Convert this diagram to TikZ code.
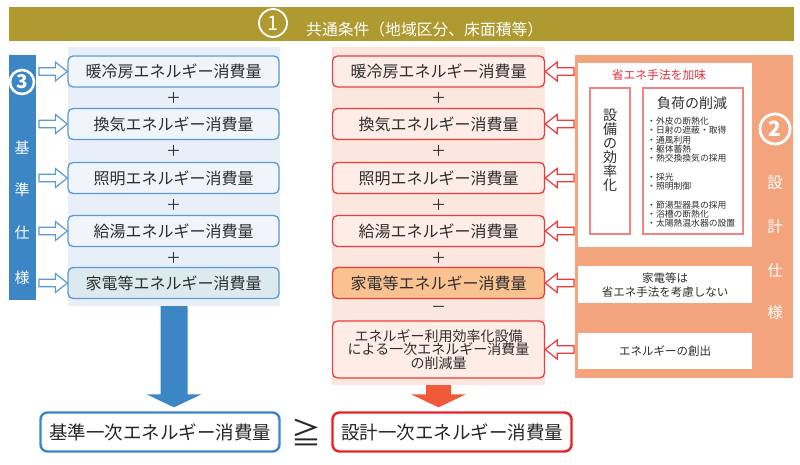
\documentclass[tikz,border=0pt]{standalone}
\usepackage{fontspec}
\setmainfont{Noto Sans CJK JP}
\usetikzlibrary{calc}
\definecolor{banner}{HTML}{AE9A30}
\definecolor{bluebar}{HTML}{3C86C6}
\definecolor{lbg}{HTML}{E9EFF8}
\definecolor{bline}{HTML}{5A9AD4}
\definecolor{bfill}{HTML}{F0F5FB}
\definecolor{bfillb}{HTML}{DCEAF0}
\definecolor{pbg}{HTML}{FCE7DE}
\definecolor{rline}{HTML}{EE3B3B}
\definecolor{rfill}{HTML}{FDEDE6}
\definecolor{ofill}{HTML}{FAC291}
\definecolor{rarrow}{HTML}{F05A3A}
\definecolor{opanel}{HTML}{F4A47C}
\definecolor{subline}{HTML}{F08484}
\definecolor{redtxt}{HTML}{E8303A}
\definecolor{txt}{HTML}{2E2E2E}
\definecolor{bred}{HTML}{E8202A}
\newcommand{\fs}[1]{\fontsize{#1}{#1}\selectfont}
\newcommand{\hollowarr}[3]{%
  \draw[#1] let \p1=#2, \p2=#3, \n1={ifthenelse(\x2>\x1,1,-1)} in
  ({\x1},{\y1+3.8pt}) -- ({\x2-\n1*12pt},{\y1+3.8pt}) -- ({\x2-\n1*12pt},{\y1+9.5pt})
  -- ({\x2},{\y1}) -- ({\x2-\n1*12pt},{\y1-9.5pt}) -- ({\x2-\n1*12pt},{\y1-3.8pt})
  -- ({\x1},{\y1-3.8pt}) -- cycle;}
\newcommand{\bigdown}[6]{%
  \fill[#1] let \p1=#2, \p2=#3 in
  ({\x1-#4},{\y1}) -- ({\x1+#4},{\y1}) -- ({\x1+#4},{\y2+#6}) -- ({\x1+#5},{\y2+#6})
  -- ({\x1},{\y2}) -- ({\x1-#5},{\y2+#6}) -- ({\x1-#4},{\y2+#6}) -- cycle;}
\begin{document}
\begin{tikzpicture}[x=1pt,y=-1pt,
  panel/.style={anchor=north west,inner sep=0pt,outer sep=0pt},
  bbox/.style={draw=bline,fill=bfill,line width=1.3pt,rounded corners=5pt,
    minimum width=211pt,minimum height=31pt,inner sep=0pt,font=\fs{16},text=txt},
  rbox/.style={draw=rline,fill=rfill,line width=1.3pt,rounded corners=5pt,
    minimum width=212pt,minimum height=31pt,inner sep=0pt,font=\fs{16},text=txt},
  opsign/.style={font=\fs{15},text=txt,inner sep=0pt},
  harrb/.style={draw=bline,fill=white,line width=1.2pt,line join=miter},
  harrr/.style={draw=rline,fill=white,line width=1.2pt,line join=miter},
  vtxt/.style={text=white,font=\fs{15},inner sep=0pt},
  numcirc/.style={circle,draw=white,text=white,inner sep=0pt,font=\bfseries\fs{19}},
  wbox/.style={panel,fill=white},
  subbox/.style={panel,draw=subline,line width=1.1pt,fill=white},
]
\useasboundingbox (0,0) rectangle (800,465);
\fill[white] (0,0) rectangle (800,465);

% banner
\node[panel,fill=banner,minimum width=785pt,minimum height=34pt] (banner) at (9,7) {};
\node[numcirc,line width=1.8pt,minimum size=28pt,font=\fs{20}] (c1) at (273,23) {1};
\node[anchor=west,text=white,font=\fs{15.8},inner sep=0pt] (bt) at (306,29) {共通条件（地域区分、床面積等）};

% left side
\node[panel,fill=bluebar,minimum width=27pt,minimum height=245pt] (bar) at (9,55) {};
\node[numcirc,line width=2.6pt,minimum size=24pt] (c3) at (22,82) {3};
\node[vtxt] (v1) at (22,148) {基};
\node[vtxt] (v2) at (22,190) {準};
\node[vtxt] (v3) at (22,233) {仕};
\node[vtxt] (v4) at (22,278) {様};
\node[panel,fill=lbg,minimum width=212pt,minimum height=259pt] (lpanel) at (68,47) {};
\node[bbox] (b1) at (173.5,71.5) {暖冷房エネルギー消費量};
\node[bbox] (b2) at (173.5,124) {換気エネルギー消費量};
\node[bbox] (b3) at (173.5,178) {照明エネルギー消費量};
\node[bbox] (b4) at (173.5,231) {給湯エネルギー消費量};
\node[bbox,fill=bfillb] (b5) at (173.5,283) {家電等エネルギー消費量};
\node[opsign] (p1) at (173.5,97.5) {＋};
\node[opsign] (p2) at (173.5,151) {＋};
\node[opsign] (p3) at (173.5,204.5) {＋};
\node[opsign] (p4) at (173.5,257.5) {＋};
\foreach \b in {b1,b2,b3,b4,b5}{
  \hollowarr{harrb}{($(bar.east|-\b.west)+(3,0)$)}{(\b.west)}
}

% middle
\node[panel,fill=pbg,minimum width=213pt,minimum height=338pt] (mpanel) at (332,47) {};
\node[rbox] (r1) at (438.5,71.5) {暖冷房エネルギー消費量};
\node[rbox] (r2) at (438.5,124) {換気エネルギー消費量};
\node[rbox] (r3) at (438.5,178) {照明エネルギー消費量};
\node[rbox] (r4) at (438.5,231) {給湯エネルギー消費量};
\node[rbox,fill=ofill] (r5) at (438.5,283) {家電等エネルギー消費量};
\node[rbox,minimum height=57pt,align=center,font=\fontsize{14}{13.8}\selectfont] (r6) at (438.5,349.5)
  {エネルギー利用効率化設備\\による一次エネルギー消費量\\の削減量};
\node[opsign] (q1) at (438.5,97.5) {＋};
\node[opsign] (q2) at (438.5,151) {＋};
\node[opsign] (q3) at (438.5,204.5) {＋};
\node[opsign] (q4) at (438.5,257.5) {＋};
\node[opsign] (q5) at (438.5,309.5) {－};

% right panel
\node[panel,fill=opanel,minimum width=218pt,minimum height=323pt] (rpanel) at (575,55) {};
\node[wbox,minimum width=174pt,minimum height=184pt] (w1) at (578,63) {};
\node[text=redtxt,font=\fs{11.8},inner sep=0pt] (w1t) at (659,75) {省エネ手法を加味};
\node[subbox,minimum width=40pt,minimum height=146pt] (sa) at (590,88) {};
\node[text=txt,font=\fontsize{14}{14}\selectfont,align=center,inner sep=0pt] (sat) at (610,150)
  {設\\備\\の\\効\\率\\化};
\node[subbox,minimum width=100pt,minimum height=146pt] (sb) at (643,88) {};
\node[text=txt,font=\fs{14},inner sep=0pt] (sbt) at (692,103) {負荷の削減};
\node[anchor=north west,text=txt,font=\fontsize{8.8}{9.2}\selectfont,align=left,inner sep=0pt] (sbl) at (647,117)
  {・外皮の断熱化\\・日射の遮蔽・取得\\・通風利用\\・躯体蓄熱\\・熱交換換気の採用\\[9.6pt]
   ・採光\\・照明制御\\[9.6pt]
   ・節湯型器具の採用\\・浴槽の断熱化\\・太陽熱温水器の設置};
\node[wbox,minimum width=174pt,minimum height=37pt] (w2) at (578,266) {};
\node[text=txt,font=\fontsize{11.5}{14}\selectfont,align=center,inner sep=0pt] (w2t) at (665,285)
  {家電等は\\省エネ手法を考慮しない};
\node[wbox,minimum width=174pt,minimum height=36pt] (w3) at (578,333) {};
\node[text=txt,font=\fs{11.5},inner sep=0pt] (w3t) at (665,351) {エネルギーの創出};
\node[numcirc,line width=2.8pt,minimum size=30pt,font=\bfseries\fs{21}] (c2) at (775,129) {2};
\node[vtxt,font=\fs{15.5}] (u1) at (775,183) {設};
\node[vtxt,font=\fs{15.5}] (u2) at (775,227) {計};
\node[vtxt,font=\fs{15.5}] (u3) at (775,271) {仕};
\node[vtxt,font=\fs{15.5}] (u4) at (775,313) {様};
\foreach \r in {r1,r2,r3,r4,r5,r6}{
  \hollowarr{harrr}{($(rpanel.west|-\r.east)+(-1,0)$)}{(\r.east)}
}

% bottom
\node[draw=bluebar,fill=white,line width=2.4pt,rounded corners=7pt,minimum width=239pt,
  minimum height=39pt,inner sep=0pt,font=\fs{18.5},text=black!85] (lb) at (160,432) {基準一次エネルギー消費量};
\node[draw=bred,fill=white,line width=2.4pt,rounded corners=7pt,minimum width=239pt,
  minimum height=39pt,inner sep=0pt,font=\fs{18.5},text=black!85] (rb) at (452,432) {設計一次エネルギー消費量};
\node[font=\fs{30},text=black!85,inner sep=0pt] (geq) at (306,432) {≧};
\bigdown{bluebar}{(lpanel.south)}{($(lpanel.south|-lb.north)+(0,-4)$)}{13.5pt}{27.5pt}{13pt}
\bigdown{rarrow}{(mpanel.south)}{($(mpanel.south|-rb.north)+(0,-4)$)}{12.5pt}{27.5pt}{13pt}
\end{tikzpicture}
\end{document}
